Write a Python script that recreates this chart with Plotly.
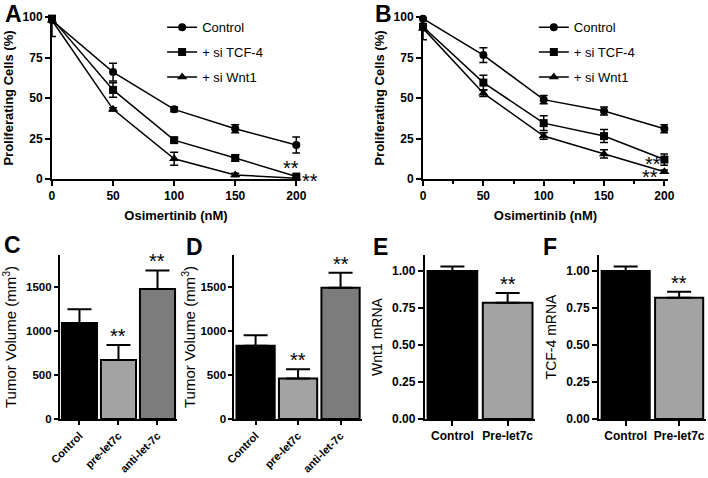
import plotly.graph_objects as go

doses = [0, 50, 100, 150, 200]

a_control = [98, 66, 43, 31, 21]
a_control_err = [10, 5.5, 1.5, 2.5, 5]
a_tcf4 = [99, 55, 24, 13, 1.5]
a_tcf4_err = [2, 4.5, 1.5, 2, 1]
a_wnt1 = [98, 43, 12.5, 2.5, 0.5]
a_wnt1_err = [1.5, 1, 4, 1, 0.5]

b_control = [99, 76.5, 49, 42, 31]
b_control_err = [1, 4.5, 2.5, 2.5, 2.5]
b_tcf4 = [94, 59.5, 34.5, 26.5, 12]
b_tcf4_err = [8, 4.5, 4.5, 4, 3.5]
b_wnt1 = [93, 53, 26.5, 15.5, 4.5]
b_wnt1_err = [1.5, 2, 2, 2.5, 1]

xeno_groups = ["Control", "pre-let7c", "anti-let-7c"]
c_volume = [1090, 670, 1475]
c_volume_err = [155, 170, 210]
d_volume = [830, 460, 1490]
d_volume_err = [120, 105, 170]

mrna_groups = ["Control", "Pre-let7c"]
e_wnt1 = [1.00, 0.785]
e_wnt1_err = [0.03, 0.067]
f_tcf4 = [1.00, 0.82]
f_tcf4_err = [0.03, 0.04]

FONT = "Liberation Sans, Arial, sans-serif"
TICKFONT = dict(family=FONT, size=12, color="black", weight="bold")
VOL_TICKFONT = dict(family=FONT, size=11.5, color="black", weight="bold")
BAR_COLORS = ["#000000", "#a3a3a3", "#7c7c7c"]


def axis(**kw):
    base = dict(showline=True, linecolor="black", linewidth=2, ticks="outside",
                ticklen=5, tickwidth=2, tickcolor="black", showgrid=False,
                zeroline=False, tickfont=TICKFONT, automargin=False)
    base.update(kw)
    return base


fig = go.Figure()

series = [("Control", "circle", 8), ("+ si TCF-4", "square", 8), ("+ si Wnt1", "triangle-up", 9)]
for panel, xa, ya, legend, vals in [
    ("A", "x", "y", "legend", [(a_control, a_control_err), (a_tcf4, a_tcf4_err), (a_wnt1, a_wnt1_err)]),
    ("B", "x2", "y2", "legend2", [(b_control, b_control_err), (b_tcf4, b_tcf4_err), (b_wnt1, b_wnt1_err)]),
]:
    for (name, sym, size), (y, err) in zip(series, vals):
        fig.add_trace(go.Scatter(
            x=doses, y=y, name=name, xaxis=xa, yaxis=ya, legend=legend,
            legendgroup=panel + name,
            mode="lines+markers", cliponaxis=False,
            line=dict(color="black", width=1.5),
            marker=dict(symbol=sym, size=size, color="black"),
            error_y=dict(type="data", array=err, color="black", thickness=1.5, width=4),
        ))

for xa, ya, cats, vals, errs in [
    ("x3", "y3", xeno_groups, c_volume, c_volume_err),
    ("x4", "y4", xeno_groups, d_volume, d_volume_err),
    ("x5", "y5", mrna_groups, e_wnt1, e_wnt1_err),
    ("x6", "y6", mrna_groups, f_tcf4, f_tcf4_err),
]:
    fig.add_trace(go.Bar(
        x=cats, y=vals, xaxis=xa, yaxis=ya, showlegend=False,
        marker=dict(color=BAR_COLORS[:len(cats)], line=dict(color="black", width=2)),
        error_y=dict(type="data", symmetric=False, array=errs, arrayminus=[0] * len(errs),
                     color="black", thickness=2, width=12),
    ))

line_y = [0.6255, 0.9644]
bar_y = [0.1234, 0.4665]
ytitle_font = dict(family=FONT, size=13, color="black", weight="bold")
xtitle_font = dict(family=FONT, size=13, color="black", weight="bold")
vol_font = dict(family=FONT, size=15, color="black")
mrna_font = dict(family=FONT, size=14, color="black")
rot_font = dict(family=FONT, size=11, color="black", weight="bold")

fig.update_layout(
    width=708, height=478, margin=dict(l=0, r=0, t=0, b=0),
    paper_bgcolor="white", plot_bgcolor="white", bargap=0.1,
    font=dict(family=FONT, color="black"),
    xaxis=axis(domain=[0.0734, 0.4237], range=[0, 203], tickvals=doses, anchor="y",
               title=dict(text="Osimertinib (nM)", font=xtitle_font, standoff=8)),
    yaxis=axis(domain=line_y, range=[0, 100], tickvals=[0, 25, 50, 75, 100], anchor="x",
               title=dict(text="Proliferating Cells (%)", font=ytitle_font, standoff=6)),
    xaxis2=axis(domain=[0.5975, 0.9435], range=[0, 203], tickvals=doses, anchor="y2",
                minor=dict(dtick=25, tick0=0, ticks="outside", ticklen=3, tickwidth=1.5, tickcolor="black"),
                title=dict(text="Osimertinib (nM)", font=xtitle_font, standoff=8)),
    yaxis2=axis(domain=line_y, range=[0, 100], tickvals=[0, 25, 50, 75, 100], anchor="x2",
                title=dict(text="Proliferating Cells (%)", font=ytitle_font, standoff=6)),
    xaxis3=axis(domain=[0.0847, 0.25], range=[-0.5, 2.5], anchor="y3", tickangle=-45,
                ticklen=4, tickfont=rot_font),
    yaxis3=axis(domain=bar_y, range=[0, 1860], tickvals=[0, 500, 1000, 1500], anchor="x3",
                ticklen=4, tickfont=VOL_TICKFONT,
                title=dict(text="Tumor Volume (mm<sup>3</sup>)", font=vol_font, standoff=8)),
    xaxis4=axis(domain=[0.331, 0.511], range=[-0.5, 2.5], anchor="y4", tickangle=-45,
                ticklen=4, tickfont=rot_font),
    yaxis4=axis(domain=bar_y, range=[0, 1860], tickvals=[0, 500, 1000, 1500], anchor="x4",
                ticklen=4, tickfont=VOL_TICKFONT,
                title=dict(text="Tumor Volume (mm<sup>3</sup>)", font=vol_font, standoff=1)),
    xaxis5=axis(domain=[0.600, 0.756], range=[-0.5, 1.5], anchor="y5"),
    yaxis5=axis(domain=bar_y, range=[0, 1.108], tickvals=[0, 0.25, 0.5, 0.75, 1], tickformat=".2f", anchor="x5",
                title=dict(text="Wnt1 mRNA", font=mrna_font, standoff=6)),
    xaxis6=axis(domain=[0.846, 0.997], range=[-0.5, 1.5], anchor="y6"),
    yaxis6=axis(domain=bar_y, range=[0, 1.108], tickvals=[0, 0.25, 0.5, 0.75, 1], tickformat=".2f", anchor="x6",
                title=dict(text="TCF-4 mRNA", font=mrna_font, standoff=6)),
    legend=dict(x=0.229, y=0.9745, xanchor="left", yanchor="top", bgcolor="rgba(0,0,0,0)",
                tracegroupgap=5, font=dict(family=FONT, size=13)),
    legend2=dict(x=0.754, y=0.9745, xanchor="left", yanchor="top", bgcolor="rgba(0,0,0,0)",
                 tracegroupgap=5, font=dict(family=FONT, size=13)),
)

star = dict(text="**", showarrow=False, font=dict(family=FONT, size=20, color="black"))
fig.add_annotation(x=196, y=0, xref="x", yref="y", yanchor="bottom", yshift=-2, **star)
fig.add_annotation(x=200, y=0, xref="x", yref="y", xanchor="left", yanchor="bottom",
                   xshift=4, yshift=-15, **star)
fig.add_annotation(x=198.5, y=0, xref="x2", yref="y2", xanchor="right", yanchor="bottom", yshift=2, **star)
fig.add_annotation(x=196, y=0, xref="x2", yref="y2", xanchor="right", yanchor="bottom", yshift=-11, **star)
for xa, ya, cats, vals, errs in [
    ("x3", "y3", xeno_groups, c_volume, c_volume_err),
    ("x4", "y4", xeno_groups, d_volume, d_volume_err),
    ("x5", "y5", mrna_groups, e_wnt1, e_wnt1_err),
    ("x6", "y6", mrna_groups, f_tcf4, f_tcf4_err),
]:
    for cat, v, e in list(zip(cats, vals, errs))[1:]:
        fig.add_annotation(x=cat, y=v + e, xref=xa, yref=ya, yanchor="bottom", yshift=-4, **star)

letter = dict(showarrow=False, xref="paper", yref="paper", xanchor="left", yanchor="top",
              font=dict(family=FONT, size=23, color="black", weight="bold"))
for txt, lx, ly in [("A", 3, -1), ("B", 373, -1), ("C", 2, 230), ("D", 184, 232), ("E", 371, 232), ("F", 541, 232)]:
    fig.add_annotation(text=txt, x=lx / 708, y=1 - ly / 478, **letter)

fig.write_html("out.html", config={"displayModeBar": False},
               post_script="document.body.style.margin = '0';")
